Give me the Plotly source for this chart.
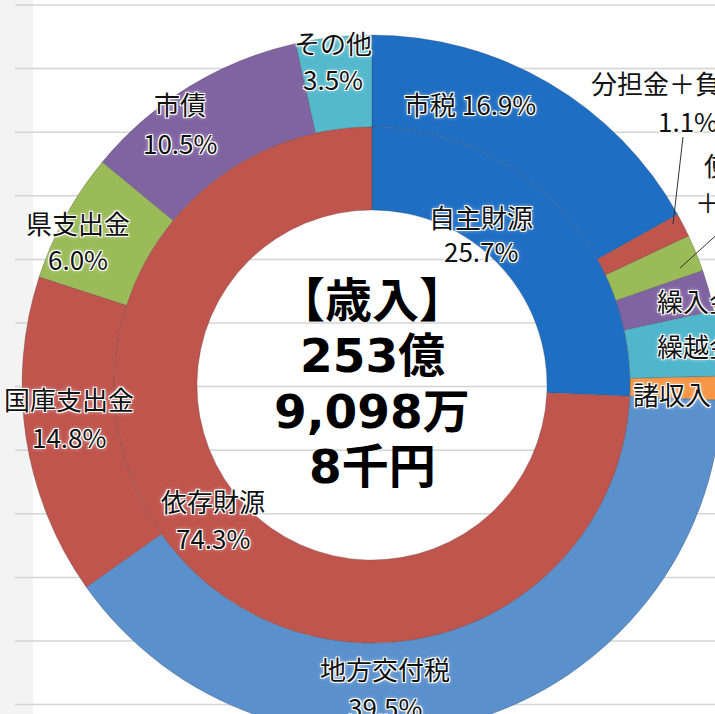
import plotly.graph_objects as go

# outer ring, clockwise from 12 o'clock
outer_labels = ["市税", "分担金＋負担金", "使用料＋手数料", "繰入金", "繰越金", "諸収入",
                "地方交付税", "国庫支出金", "県支出金", "市債", "その他"]
outer_values = [16.9, 1.1, 1.7, 1.9, 3.0, 1.1, 39.5, 14.8, 6.0, 10.5, 3.5]
outer_colors = ["#1e6ec3", "#c0554e", "#9bbb59", "#8064a2", "#4fb6cc", "#f79646",
                "#5a91cd", "#c0554e", "#9bbb59", "#8064a2", "#55b9cd"]

# inner ring
inner_labels = ["自主財源", "依存財源"]
inner_values = [25.7, 74.3]
inner_colors = ["#1e6ec3", "#c0554e"]

center_lines = ["【歳入】", "253億", "9,098万", "8千円"]

# geometry (pixels): the chart is bigger than the window, like the cropped original
W, H = 722, 735
L, T = 22, 35
SIDE = 700
R_OUT, R_MID, R_IN = 350, 258, 175

def px(x, y):
    return (x - L) / SIDE, (T + SIDE - y) / SIDE

FONT = "Noto Sans CJK JP"
HALO = "1px 1px 0 #fff, -1px -1px 0 #fff, 1px -1px 0 #fff, -1px 1px 0 #fff, 0 0 4px #fff"

fig = go.Figure()
fig.add_trace(go.Pie(
    labels=outer_labels, values=outer_values, sort=False, direction="clockwise", rotation=0,
    hole=R_MID / R_OUT, marker=dict(colors=outer_colors, line=dict(color="rgba(60,60,60,0.25)", width=1)),
    textinfo="none", domain=dict(x=[0, 1], y=[0, 1]), name="歳入"))
half = R_MID / R_OUT / 2
fig.add_trace(go.Pie(
    labels=inner_labels, values=inner_values, sort=False, direction="clockwise", rotation=0,
    hole=R_IN / R_MID, marker=dict(colors=inner_colors, line=dict(color="rgba(60,60,60,0.25)", width=1)),
    textinfo="none", domain=dict(x=[0.5 - half, 0.5 + half], y=[0.5 - half, 0.5 + half]), name="財源"))

def label(text, x, y, anchor="center", size=26):
    ax, ay = px(x, y)
    fig.add_annotation(x=ax, y=ay, xref="paper", yref="paper", text=text, showarrow=False,
                       xanchor=anchor, yanchor="middle",
                       font=dict(family=FONT, size=size, color="#111", shadow=HALO))

def pct(v):
    return f"{v:.1f}%"

ov = dict(zip(outer_labels, outer_values))
iv = dict(zip(inner_labels, inner_values))

# two-line labels: name over value
two_line = {"その他": (333, 42, 79), "市債": (180, 104, 143), "県支出金": (78, 222, 258),
            "国庫支出金": (69, 398, 436), "地方交付税": (385, 668, 706)}
for name, (x, y1, y2) in two_line.items():
    label(name, x, y1)
    label(pct(ov[name]), x, y2)

label(f"市税 {pct(ov['市税'])}", 470, 104)
label("分担金＋負担金", 589, 82, "left")
label(pct(ov["分担金＋負担金"]), 656, 120, "left")
label("使用料", 702, 164, "left")
label(f"＋手数料 {pct(ov['使用料＋手数料'])}", 693, 202, "left")
label(f"繰入金 {pct(ov['繰入金'])}", 655, 300, "left")
label(f"繰越金 {pct(ov['繰越金'])}", 655, 345, "left")
label(f"諸収入 {pct(ov['諸収入'])}", 631, 393, "left")

label("自主財源", 481, 216)
label(pct(iv["自主財源"]), 481, 250)
label("依存財源", 213, 500)
label(pct(iv["依存財源"]), 213, 537)

for i, line in enumerate(center_lines):
    ax, ay = px(372, 300 + i * 55.5)
    fig.add_annotation(x=ax, y=ay, xref="paper", yref="paper", text=line, showarrow=False,
                       xanchor="center", yanchor="middle",
                       font=dict(family="DejaVu Sans, Noto Sans CJK JP", size=47, color="#000", weight="bold"))

shapes = []
# light background: grey strip on the left and ruled lines
x0, y0 = px(0, 0)
x1, y1 = px(33, H)
shapes.append(dict(type="rect", xref="paper", yref="paper", x0=x0, x1=x1, y0=y1, y1=y0,
                   fillcolor="#f3f3f3", line=dict(width=0), layer="below"))
for i in range(12):
    ya = px(0, 5 + i * 63.6)[1]
    shapes.append(dict(type="line", xref="paper", yref="paper", x0=px(15, 0)[0], x1=px(W, 0)[0],
                       y0=ya, y1=ya, line=dict(color="#d4d4d4", width=1.5), layer="below"))
# leader lines for the small slices
for (ax0, ay0), (ax1, ay1) in [((683, 137), (673, 224)), ((722, 230), (680, 268))]:
    a, b = px(ax0, ay0)
    c, d = px(ax1, ay1)
    shapes.append(dict(type="line", xref="paper", yref="paper", x0=a, y0=b, x1=c, y1=d,
                       line=dict(color="#333", width=1)))

fig.update_layout(
    width=W, height=H, showlegend=False,
    margin=dict(l=L, r=W - L - SIDE, t=T, b=H - T - SIDE),
    paper_bgcolor="white", shapes=shapes,
)

fig.write_html("out.html", config={"displayModeBar": False}, post_script=[
    "document.body.style.margin='0';document.body.style.overflow='hidden';"
    "document.documentElement.style.overflow='hidden';"])
